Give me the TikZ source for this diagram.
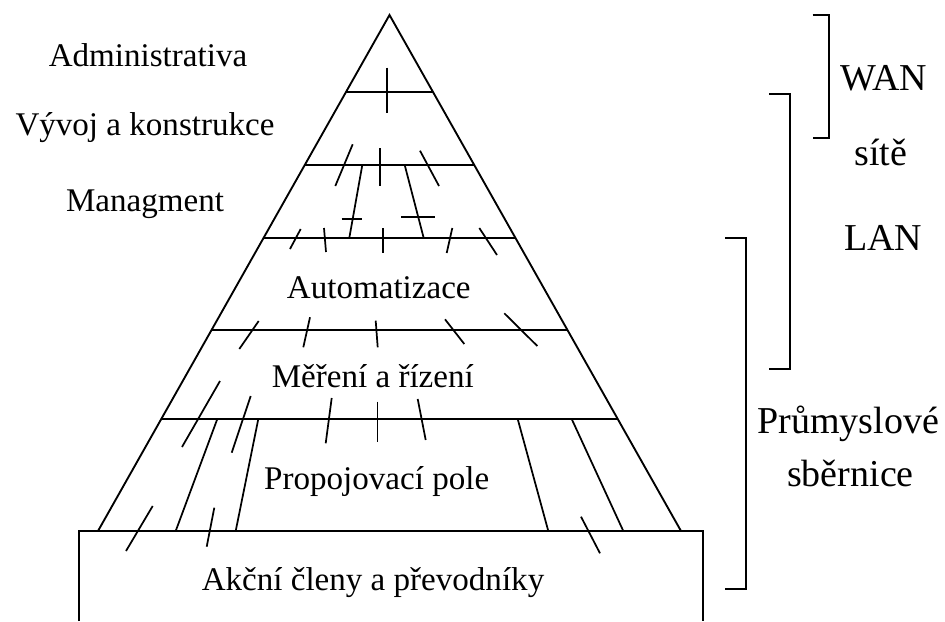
\documentclass[tikz,border=0pt]{standalone}
\usepackage{fontspec}
\setmainfont{Liberation Serif}
\begin{document}
\begin{tikzpicture}[x=0.75pt,y=-0.75pt,line width=1.4pt,
  ptext/.style={anchor=base,inner sep=0pt,font=\fontsize{24.8pt}{28pt}\selectfont},
  rtext/.style={anchor=base,inner sep=0pt,font=\fontsize{28.5pt}{32pt}\selectfont},
  tick/.style={line width=1.3pt},
  brk/.style={line width=1.4pt}]
\useasboundingbox (0,0) rectangle (945,621);
% pyramid outline
\coordinate (apex) at (389.5,15);
\coordinate (bl) at (98,531);
\coordinate (br) at (681,531);
\draw (bl) -- (apex) -- (br);
% level lines
\coordinate (l1a) at (346,92);   \coordinate (l1b) at (433,92);
\coordinate (l2a) at (304.75,165); \coordinate (l2b) at (474.25,165);
\coordinate (l3a) at (263.5,238); \coordinate (l3b) at (515.5,238);
\coordinate (l4a) at (211.5,330); \coordinate (l4b) at (567.5,330);
\coordinate (l5a) at (161.2,419); \coordinate (l5b) at (617.8,419);
\draw (l1a) -- (l1b);
\draw (l2a) -- (l2b);
\draw (l3a) -- (l3b);
\draw (l4a) -- (l4b);
\draw (l5a) -- (l5b);
% base box (open at bottom)
\coordinate (bx1) at (79,621); \coordinate (bx2) at (79,531);
\coordinate (bx3) at (703,531); \coordinate (bx4) at (703,621);
\draw (bx1) -- (bx2) -- (bx3) -- (bx4);
% ticks and connection lines
\foreach \a/\b/\c/\d in {
  387.3/67.7/387.3/113.3,
  352.7/144.3/335.3/186,
  380/148.3/380/186,
  420/150.7/439/186,
  362.3/165/349.3/238,
  404.7/165/423.7/238,
  341.7/219/362.3/219,
  401/217.3/435/217.3,
  300.7/229/290/249,
  324/228/326/252,
  383.3/228/383.3/253,
  452.3/228/446.7/253,
  479.3/228/497/255,
  258.7/321/239.3/349,
  310/317.3/303.3/347.3,
  375.7/320.7/377.7/347.3,
  445/319.3/464.3/344,
  504.3/313.3/537.3/346,
  220/381/182/447,
  250.7/396/231.7/452.7,
  331.7/398/325.7/443.3,
  377.5/401.7/377.5/441.7,
  417.7/399/425.7/440,
  217.3/419/175.7/531,
  258.3/419/235.7/531,
  152.7/506/126/551,
  214.3/507.7/206.7/546.7,
  517.7/419/548.3/531,
  571.7/419/623.3/531,
  581/516.7/600/553.3}
  \draw[tick] (\a,\b) -- (\c,\d);
% labels left
\node[ptext] (adm) at (148,66) {Administrativa};
\node[ptext] (vyv) at (145,135) {Vývoj a konstrukce};
\node[ptext] (man) at (145,211.5) {Managment};
% labels in pyramid
\node[ptext] (aut) at (378.8,298.3) {Automatizace};
\node[ptext] (mer) at (372.8,387.3) {Měření a řízení};
\node[ptext] (pro) at (376.7,489.3) {Propojovací pole};
\node[ptext] (akc) at (373,590.7) {Akční členy a převodníky};
% right labels
\node[rtext] (wan) at (883.7,90) {WAN};
\node[rtext] (site) at (881,165) {sítě};
\node[rtext] (lan) at (883.3,250) {LAN};
\node[rtext] (prum) at (848.3,433) {Průmyslové};
\node[rtext] (sber) at (850.5,486.7) {sběrnice};
% brackets
\coordinate (w1) at (812.7,15); \coordinate (w2) at (829,15);
\coordinate (w3) at (829,137.7); \coordinate (w4) at (812.7,137.7);
\draw[brk] (w1) -- (w2) -- (w3) -- (w4);
\coordinate (s1) at (769,94.3); \coordinate (s2) at (790,94.3);
\coordinate (s3) at (790,369); \coordinate (s4) at (769,369);
\draw[brk] (s1) -- (s2) -- (s3) -- (s4);
\coordinate (p1) at (725,238.3); \coordinate (p2) at (746,238.3);
\coordinate (p3) at (746,588.7); \coordinate (p4) at (725,588.7);
\draw[brk] (p1) -- (p2) -- (p3) -- (p4);
\end{tikzpicture}
\end{document}
